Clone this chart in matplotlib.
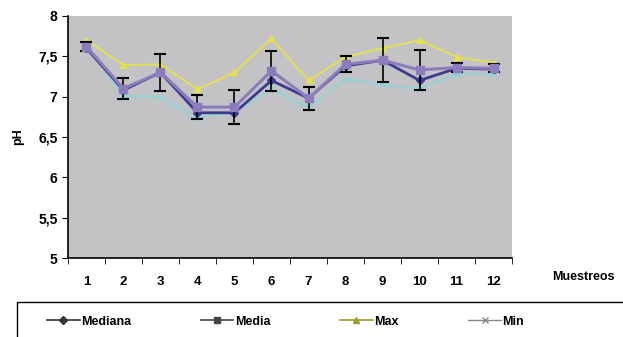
import matplotlib.pyplot as plt
from matplotlib.lines import Line2D
from matplotlib.patches import Rectangle
import numpy as np

# Datos
muestreos = np.arange(1, 13)
mediana = [7.60, 7.08, 7.30, 6.80, 6.80, 7.20, 6.98, 7.38, 7.45, 7.20, 7.35, 7.34]
media   = [7.62, 7.10, 7.30, 6.87, 6.87, 7.32, 6.98, 7.40, 7.45, 7.33, 7.36, 7.35]
maximo  = [7.70, 7.39, 7.40, 7.09, 7.30, 7.72, 7.20, 7.49, 7.60, 7.70, 7.49, 7.42]
minimo  = [7.62, 7.01, 7.00, 6.74, 6.80, 7.10, 6.86, 7.22, 7.15, 7.10, 7.28, 7.28]
desv    = [0.05, 0.13, 0.23, 0.15, 0.21, 0.25, 0.14, 0.10, 0.27, 0.25, 0.06, 0.05]

y_ticks  = [5, 5.5, 6, 6.5, 7, 7.5, 8]
y_labels = ["5", "5,5", "6", "6,5", "7", "7,5", "8"]

plt.rcParams['font.family'] = ['Liberation Sans', 'DejaVu Sans']

fig = plt.figure(figsize=(6.23, 3.37), dpi=100)
ax = fig.add_axes([0.109, 0.234, 0.713, 0.719])
ax.set_facecolor("#c3c3c5")

ax.plot(muestreos, minimo, color="#8fd3d6", marker="x", markersize=4,
        linewidth=1.3, label="Min", zorder=2)
ax.plot(muestreos, maximo, color="#e6e14a", marker="^", markersize=5,
        linewidth=1.3, label="Max", zorder=3)
ax.plot(muestreos, mediana, color="#3a3a8e", marker="D", markersize=4,
        linewidth=2.0, label="Mediana", zorder=4)
ax.errorbar(muestreos, media, yerr=desv, color="#8c7cbc", marker="s",
            markersize=6, linewidth=2.2, ecolor="black", elinewidth=1.2,
            capsize=4, capthick=1.5, label="Media", zorder=5)

ax.set_xlim(0.5, 12.5)
ax.set_ylim(5, 8)
ax.set_yticks(y_ticks)
ax.set_yticklabels(y_labels, fontsize=10, fontweight="bold")
ax.set_xticks(muestreos)
ax.set_xticklabels([str(m) for m in muestreos], fontsize=9.5, fontweight="bold")
ax.tick_params(axis="x", length=0, pad=13)
ax.set_xticks(np.arange(0.5, 13, 1), minor=True)
ax.tick_params(axis="x", which="minor", length=4, direction="out")
ax.tick_params(axis="y", length=4, direction="out")

for side in ["top", "right"]:
    ax.spines[side].set_visible(False)
ax.spines["left"].set_linewidth(1.2)
ax.spines["bottom"].set_linewidth(1.2)

ax.set_ylabel("pH", fontsize=9, fontweight="bold", labelpad=10)
fig.text(0.937, 0.178, "Muestreos", fontsize=9, fontweight="bold",
         ha="center", va="center")

# Leyenda (marco aparte, se sale por la derecha y abajo)
fig.patches.append(Rectangle((17 / 623, -0.05), 1.0, 0.154,
                             transform=fig.transFigure, fill=False,
                             edgecolor="black", linewidth=1.0))
handles = [
    Line2D([], [], color="#333333", marker="D", markersize=4, linewidth=1.2),
    Line2D([], [], color="#444444", marker="s", markersize=5, linewidth=1.2),
    Line2D([], [], color="#9a9a30", marker="^", markersize=5, linewidth=1.2),
    Line2D([], [], color="#888888", marker="x", markersize=4, linewidth=1.0),
]
labels = ["Mediana", "Media", "Max", "Min"]
fig.legend(handles, labels, ncol=4, loc="center left",
           bbox_to_anchor=(42 / 623, 0.045), frameon=False,
           prop={"weight": "bold", "size": 9}, handlelength=2.6,
           handletextpad=0.1, columnspacing=5.6, borderaxespad=0)

fig.savefig("out.png", dpi=100)
